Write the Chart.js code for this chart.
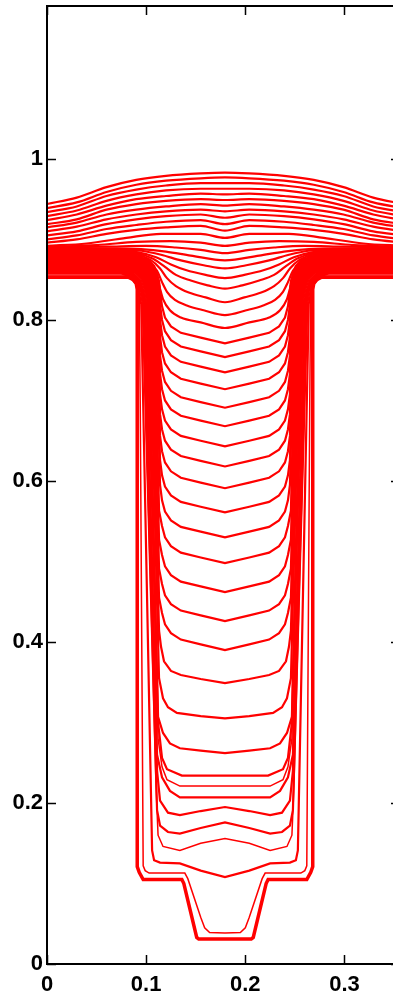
<!DOCTYPE html>
<html>
<head>
<meta charset="utf-8">
<script src="https://cdn.jsdelivr.net/npm/chart.js@4.4.0/dist/chart.umd.min.js"></script>
<style>
  html, body { margin: 0; padding: 0; overflow: hidden; background: #fff; }
  #wrap { width: 402px; height: 993px; }
</style>
</head>
<body>
<div id="wrap"><canvas id="fronts"></canvas></div>
<script>
// left halves of every front, mirrored about the trench centre
var centreX = 0.1795;

var xTicks = [0, 0.1, 0.2, 0.3];
var xTickLabels = ['0', '0.1', '0.2', '0.3'];
var yTicks = [0, 0.2, 0.4, 0.6, 0.8, 1];
var yTickLabels = ['0', '0.2', '0.4', '0.6', '0.8', '1'];

// starting profile of the trench
var initialFront = [[0,.853],[.082,.853],[.087,.850],[.090,.845],[.091,.838],[.091,.121],[.093,.114],[.097,.105],[.136,.105],[.138,.100],[.151,.033],[.153,.031],[.1795,.031]];

// first fronts near the bottom
var earlyFronts = [
  [[0,.856],[.080,.856],[.087,.853],[.091,.847],[.093,.838],[.094,.700],[.097,.122],[.099,.116],[.103,.113],[.139,.113],[.142,.106],[.155,.058],[.159,.045],[.164,.039],[.1795,.0385]],
  [[0,.858],[.075,.858],[.083,.854],[.090,.845],[.093,.833],[.095,.820],[.106,.141],[.108,.129],[.114,.126],[.134,.125],[.155,.116],[.1795,.108]],
  [[0,.859],[.075,.859],[.084,.855],[.091,.846],[.094,.834],[.096,.822],[.110,.220],[.112,.160],[.117,.146],[.134,.141],[.155,.150],[.1795,.156]],
  [[0,.860],[.075,.860],[.085,.856],[.092,.847],[.095,.835],[.097,.823],[.111,.191],[.114,.172],[.122,.164],[.134,.162],[.155,.169],[.1795,.176]],
  [[0,.861],[.075,.861],[.086,.857],[.093,.848],[.096,.836],[.098,.824],[.111,.240],[.114,.203],[.122,.188],[.134,.185],[.155,.190],[.1795,.195]],
  [[0,.862],[.075,.862],[.087,.858],[.094,.849],[.097,.837],[.099,.825],[.111,.260],[.116,.232],[.124,.215],[.134,.207],[.1795,.207]],
  [[0,.863],[.075,.863],[.088,.859],[.095,.850],[.098,.838],[.100,.826],[.112,.280],[.116,.245],[.121,.229],[.134,.221],[.1795,.221]],
  [[0,.864],[.075,.864],[.089,.860],[.096,.851],[.099,.839],[.101,.827],[.112,.300],[.116,.256],[.121,.242],[.136,.234],[.1795,.234]],
  [[0,.865],[.075,.865],[.090,.861],[.097,.852],[.100,.840],[.102,.828],[.112,.307],[.117,.287],[.124,.274],[.134,.268],[.155,.265],[.1795,.262]],
  [[0,.866],[.075,.866],[.091,.862],[.098,.853],[.101,.841],[.103,.829],[.113,.355],[.117,.330],[.122,.319],[.131,.312],[.155,.308],[.1795,.305]],
  [[0,.867],[.075,.867],[.092,.863],[.099,.854],[.102,.842],[.104,.830],[.113,.414],[.115,.394],[.118,.376],[.125,.364],[.135,.359],[.155,.354],[.1795,.349]]
];

// fronts climbing the trench
var trenchFronts = [
  [[0,.868],[.075,.868],[.093,.864],[.100,.855],[.103,.843],[.105,.831],[.113,.455],[.116,.436],[.119,.422],[.125,.411],[.135,.403],[.155,.397],[.1795,.390]],
  [[0,.869],[.075,.869],[.094,.865],[.101,.856],[.104,.844],[.106,.832],[.113,.491],[.116,.472],[.119,.458],[.125,.447],[.135,.439],[.155,.433],[.1795,.426]],
  [[0,.870],[.075,.870],[.095,.866],[.102,.857],[.105,.845],[.107,.833],[.113,.527],[.116,.508],[.119,.494],[.125,.483],[.135,.475],[.155,.469],[.1795,.462]],
  [[0,.871],[.075,.871],[.096,.867],[.103,.858],[.106,.846],[.108,.834],[.113,.563],[.116,.544],[.119,.530],[.125,.519],[.135,.511],[.155,.505],[.1795,.498]],
  [[0,.872],[.075,.872],[.097,.868],[.104,.859],[.107,.847],[.109,.835],[.114,.595],[.116,.576],[.119,.562],[.125,.551],[.135,.543],[.155,.537],[.1795,.530]],
  [[0,.873],[.075,.873],[.097,.869],[.104,.860],[.107,.848],[.109,.836],[.114,.626],[.116,.607],[.119,.593],[.125,.582],[.135,.574],[.155,.568],[.1795,.561]],
  [[0,.874],[.075,.874],[.098,.870],[.105,.861],[.108,.849],[.110,.837],[.114,.656],[.116,.637],[.119,.623],[.125,.612],[.135,.604],[.155,.598],[.1795,.591]],
  [[0,.875],[.075,.875],[.098,.871],[.105,.862],[.108,.850],[.110,.838],[.114,.683],[.116,.664],[.119,.650],[.125,.639],[.135,.631],[.155,.625],[.1795,.618]],
  [[0,.876],[.075,.876],[.099,.872],[.106,.863],[.109,.851],[.111,.839],[.114,.708],[.116,.689],[.119,.675],[.125,.664],[.135,.656],[.155,.650],[.1795,.643]],
  [[0,.877],[.075,.877],[.099,.873],[.106,.864],[.109,.852],[.111,.840],[.114,.733],[.116,.714],[.119,.700],[.125,.689],[.135,.681],[.155,.675],[.1795,.668]],
  [[0,.878],[.075,.878],[.100,.874],[.107,.865],[.110,.853],[.112,.841],[.114,.756],[.116,.737],[.119,.723],[.125,.712],[.135,.704],[.155,.698],[.1795,.691]],
  [[0,.879],[.075,.879],[.101,.875],[.108,.866],[.111,.854],[.113,.842],[.114,.779],[.116,.760],[.119,.746],[.125,.735],[.135,.727],[.155,.721],[.1795,.714]],
  [[0,.880],[.075,.880],[.101,.876],[.108,.867],[.111,.855],[.113,.843],[.114,.800],[.116,.781],[.119,.767],[.125,.756],[.135,.748],[.155,.742],[.1795,.735]],
  [[0,.881],[.070,.881],[.094,.878],[.105,.870],[.110,.859],[.113,.846],[.114,.819],[.116,.800],[.119,.786],[.125,.775],[.135,.767],[.155,.761],[.1795,.754]],
  [[0,.882],[.065,.882],[.090,.879],[.103,.871],[.110,.860],[.113,.848],[.114,.836],[.116,.817],[.119,.803],[.125,.792],[.135,.784],[.155,.778],[.1795,.771]]
];

// fronts leaving the trench mouth
var mouthFronts = [
  [[0,.883],[.060,.883],[.085,.880],[.100,.872],[.108,.860],[.113,.843],[.117,.826],[.124,.812],[.135,.803],[.155,.797],[.1795,.790]],
  [[0,.884],[.060,.884],[.087,.881],[.102,.873],[.111,.861],[.116,.847],[.121,.835],[.129,.825],[.141,.818],[.158,.812],[.1795,.806]],
  [[0,.885],[.060,.885],[.088,.882],[.104,.875],[.114,.864],[.121,.852],[.130,.842],[.143,.834],[.160,.828],[.1795,.822]],
  [[0,.886],[.060,.886],[.090,.883],[.107,.876],[.119,.866],[.130,.856],[.145,.849],[.162,.843],[.1795,.839]],
  [[0,.887],[.060,.887],[.092,.884],[.110,.878],[.125,.869],[.140,.862],[.160,.856],[.1795,.852]],
  [[0,.888],[.060,.888],[.095,.886],[.115,.881],[.135,.874],[.158,.868],[.1795,.864]],
  [[0,.889],[.060,.889],[.095,.888],[.120,.885],[.145,.880],[.1795,.874]],
  [[0,.890],[.060,.891],[.100,.892],[.130,.890],[.155,.887],[.1795,.883]],
  [[0,.891],[.050,.893],[.090,.897],[.125,.898],[.155,.896],[.1795,.892]],
  [[0,.892],[.040,.895],[.080,.902],[.115,.907],[.155,.907],[.1795,.902]]
];

// last fronts, above the filled trench
var fieldFronts = [
  [[0,.896],[.03,.900],[.06,.907],[.09,.912],[.12,.915],[.155,.917],[.1795,.911]],
  [[0,.900],[.03,.905],[.06,.913],[.09,.918],[.12,.922],[.155,.924],[.1795,.919]],
  [[0,.905],[.03,.910],[.06,.919],[.09,.925],[.12,.929],[.155,.931],[.1795,.927]],
  [[0,.910],[.03,.916],[.06,.925],[.09,.931],[.12,.935],[.155,.937],[.1795,.935]],
  [[0,.915],[.03,.921],[.06,.931],[.09,.937],[.12,.941],[.155,.944],[.1795,.942]],
  [[0,.919],[.03,.925],[.06,.937],[.09,.944],[.12,.948],[.155,.950],[.1795,.949]],
  [[0,.924],[.03,.931],[.06,.942],[.09,.950],[.12,.954],[.155,.957],[.1795,.956]],
  [[0,.929],[.03,.936],[.06,.948],[.09,.956],[.12,.961],[.155,.963],[.1795,.963]],
  [[0,.934],[.03,.941],[.06,.954],[.09,.962],[.12,.967],[.155,.970],[.1795,.970]],
  [[0,.939],[.03,.946],[.06,.959],[.09,.968],[.12,.973],[.155,.976],[.1795,.977]],
  [[0,.944],[.03,.952],[.06,.965],[.09,.974],[.12,.979],[.155,.982],[.1795,.983]]
];

// early fronts drawn with a finer pen in the picture
var thinEarly = [0, 2, 6];

function mirror(half) {
    var right = half.slice(0, -1).reverse().map(function (p) {
        return [2 * centreX - p[0], p[1]];
    });
    return half.concat(right).map(function (p) { return { x: p[0], y: p[1] }; });
}

function frontSet(half, width, smooth) {
    return {
        data: mirror(half),
        showLine: true,
        borderColor: '#ff0000',
        borderWidth: width,
        pointRadius: 0,
        fill: false,
        tension: 0,
        cubicInterpolationMode: smooth ? 'monotone' : 'default'
    };
}

var datasets = [frontSet(initialFront, 3.5, false)];
earlyFronts.forEach(function (f, i) {
    datasets.push(frontSet(f, thinEarly.indexOf(i) >= 0 ? 1.5 : 2.2, false));
});
trenchFronts.forEach(function (f) { datasets.push(frontSet(f, 2.2, false)); });
mouthFronts.forEach(function (f) { datasets.push(frontSet(f, 2.2, true)); });
fieldFronts.forEach(function (f) { datasets.push(frontSet(f, 2.2, true)); });

// box round the plot with inward tick marks on all four sides
var framePlugin = {
    id: 'frame',
    afterDraw: function (chart) {
        var ctx = chart.ctx;
        var a = chart.chartArea;
        var xs = chart.scales.x;
        var ys = chart.scales.y;
        ctx.save();
        ctx.strokeStyle = '#000';
        ctx.lineWidth = 1.5;
        ctx.beginPath();
        xTicks.forEach(function (v) {
            var px = Math.round(xs.getPixelForValue(v)) + 0.5;
            ctx.moveTo(px, a.bottom); ctx.lineTo(px, a.bottom - 9);
            ctx.moveTo(px, a.top); ctx.lineTo(px, a.top + 9);
        });
        yTicks.forEach(function (v) {
            var py = Math.round(ys.getPixelForValue(v)) + 0.5;
            ctx.moveTo(a.left, py); ctx.lineTo(a.left + 9, py);
            ctx.moveTo(a.right, py); ctx.lineTo(a.right - 9, py);
        });
        ctx.stroke();
        ctx.lineWidth = 2;
        ctx.strokeRect(a.left, a.top, a.right - a.left, a.bottom - a.top);
        ctx.restore();
    }
};

var canvas = document.getElementById('fronts');
canvas.width = 402;
canvas.height = 993;

var labelFont = { family: "'Liberation Sans', Arial, Helvetica, sans-serif", size: 22, weight: 'bold' };

new Chart(canvas, {
    type: 'scatter',
    data: { datasets: datasets },
    options: {
        responsive: false,
        animation: false,
        devicePixelRatio: 1,
        layout: { padding: { top: 6, right: 2, left: 0, bottom: 0 } },
        plugins: { legend: { display: false }, tooltip: { enabled: false } },
        scales: {
            x: {
                type: 'linear',
                min: 0,
                max: 0.356,
                grid: { display: false, drawTicks: false },
                border: { display: false },
                afterBuildTicks: function (s) { s.ticks = xTicks.map(function (v) { return { value: v }; }); },
                afterFit: function (s) { s.height = 29; s.paddingLeft = 0; s.paddingRight = 0; },
                ticks: {
                    autoSkip: false,
                    maxRotation: 0,
                    padding: 8,
                    color: '#000',
                    font: labelFont,
                    callback: function (v, i) { return xTickLabels[i]; }
                }
            },
            y: {
                type: 'linear',
                min: 0,
                max: 1.19,
                grid: { display: false, drawTicks: false },
                border: { display: false },
                afterBuildTicks: function (s) { s.ticks = yTicks.map(function (v) { return { value: v }; }); },
                afterFit: function (s) { s.width = 47; s.paddingTop = 0; s.paddingBottom = 0; },
                ticks: {
                    autoSkip: false,
                    padding: 4,
                    color: '#000',
                    font: labelFont,
                    callback: function (v, i) { return yTickLabels[i]; }
                }
            }
        }
    },
    plugins: [framePlugin]
});
</script>
</body>
</html>
